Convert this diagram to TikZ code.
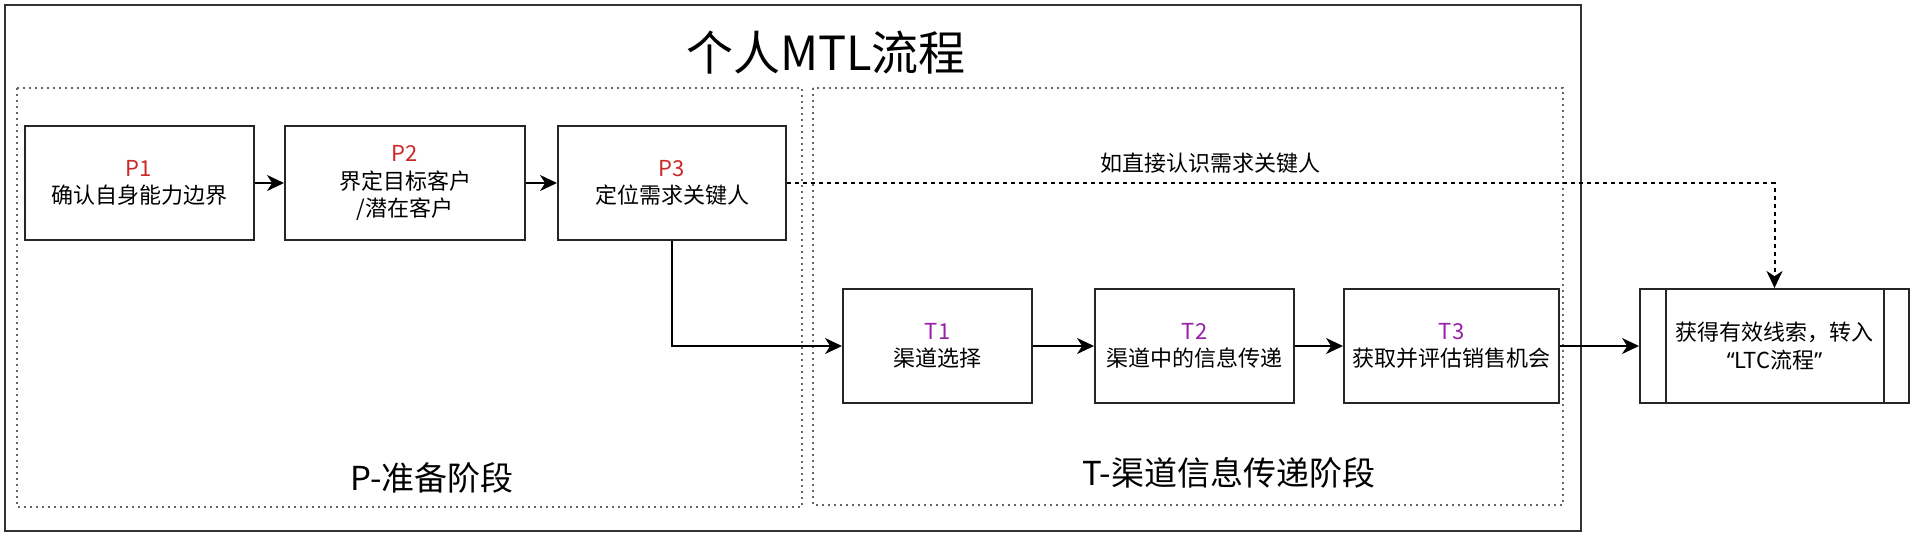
\documentclass[tikz,border=0pt]{standalone}
\usepackage{fontspec}
\setmainfont{Noto Sans CJK SC}
\newfontfamily\latq{Noto Sans}
\usetikzlibrary{arrows.meta}
\definecolor{pred}{RGB}{204,40,40}
\definecolor{tpurple}{RGB}{153,30,170}
\begin{document}
\begin{tikzpicture}[x=0.5pt,y=-0.5pt,
  box/.style={draw=black!85, line width=1pt, align=center, inner sep=0pt,
    minimum height=57pt, font=\fontsize{11}{13.75}\selectfont},
  arr/.style={-{Stealth[length=8.5pt,width=8pt,inset=2.6pt]}, line width=1pt},
  dasharr/.style={arr, dash pattern=on 2pt off 2pt},
  phase/.style={draw=black!60, line width=0.7pt, dash pattern=on 0.8pt off 2.2pt},
  lbl/.style={font=\fontsize{11}{13.75}\selectfont, inner sep=0pt},
  big/.style={font=\fontsize{16.5}{20}\selectfont, inner sep=0pt}]
\useasboundingbox (0,0) rectangle (1920,543);
% outer frame
\draw[draw=black!80, line width=1pt] (5,5) rectangle (1581,531);
\node[font=\fontsize{23.5}{28}\selectfont, inner sep=0pt] (title) at (826,53) {个人MTL流程};
% phase frames
\draw[phase] (17,88) rectangle (802,507);
\draw[phase] (813,88) rectangle (1563,505);
\node[big] (plabel) at (432,478) {P-准备阶段};
\node[big] (tlabel) at (1229,473) {T-渠道信息传递阶段};
% P boxes
\node[box, minimum width=114.5pt] (P1) at (139,183) {{\color{pred}P1}\\确认自身能力边界};
\node[box, minimum width=120pt] (P2) at (405,183) {{\color{pred}P2}\\界定目标客户\\/潜在客户};
\node[box, minimum width=114pt] (P3) at (672,183) {{\color{pred}P3}\\定位需求关键人};
% T boxes
\node[box, minimum width=94.5pt] (T1) at (937.5,346) {{\color{tpurple}T1}\\渠道选择};
\node[box, minimum width=99.5pt] (T2) at (1194.5,346) {{\color{tpurple}T2}\\渠道中的信息传递};
\node[box, minimum width=107.5pt] (T3) at (1451.5,346) {{\color{tpurple}T3}\\获取并评估销售机会};
% final predefined-process box
\node[box, minimum width=134.5pt] (F) at (1774.5,346) {获得有效线索，转入\\{\latq “}LTC流程{\latq ”}};
\draw[draw=black!85, line width=1pt] ([xshift=13.5pt]F.north west) -- ([xshift=13.5pt]F.south west);
\draw[draw=black!85, line width=1pt] ([xshift=-13pt]F.north east) -- ([xshift=-13pt]F.south east);
% connectors
\draw[arr] (P1) -- (P2);
\draw[arr] (P2) -- (P3);
\draw[arr] (P3.south) |- (T1.west);
\draw[arr] (T1) -- (T2);
\draw[arr] (T2) -- (T3);
\draw[arr] (T3) -- (F);
\draw[dasharr] (P3.east) -| (F.north);
\node[lbl] (dl) at (1210,163) {如直接认识需求关键人};
\end{tikzpicture}
\end{document}
